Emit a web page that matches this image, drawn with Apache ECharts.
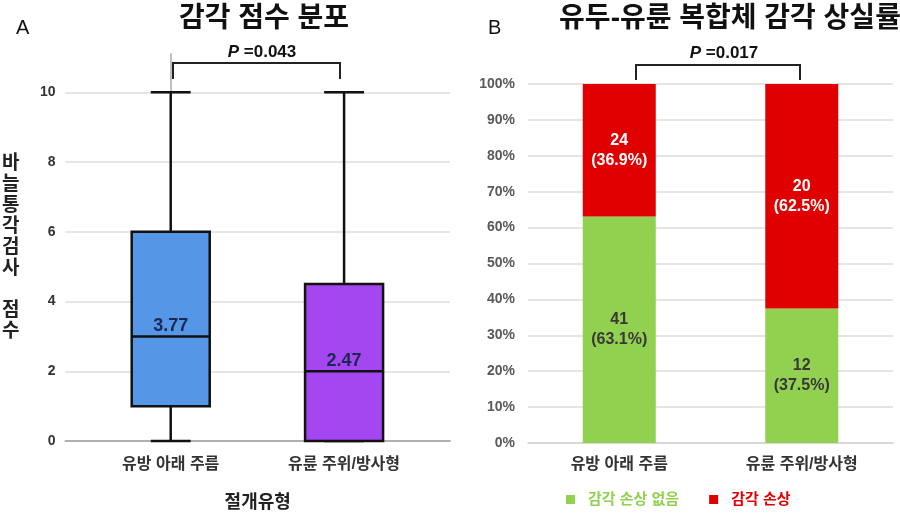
<!DOCTYPE html>
<html>
<head>
<meta charset="utf-8">
<script src="https://cdn.jsdelivr.net/npm/echarts@6/dist/echarts.min.js"></script>
<style>
  html, body { margin: 0; padding: 0; background: #fff; }
  #chart { width: 900px; height: 517px; }
</style>
</head>
<body>
<div id="chart"></div>
<script>
const FONT = "Arial, 'Liberation Sans', 'Noto Sans CJK KR', sans-serif";

// 절개유형 (두 패널 공통)
const categories = ["유방 아래 주름", "유륜 주위/방사형"];

// A: 바늘통각검사 점수 분포 [x, min, Q1, median, Q3, max]
const boxStats = [
  [0, 0, 1, 3, 6, 10],
  [1, 0, 0, 2, 4.5, 10]
];
const boxMeans = [3.77, 2.47];
const boxColors = ["#5596e6", "#a547f0"];
const scoreTicks = [0, 2, 4, 6, 8, 10];

// B: 감각 상실률
const noLossCounts = [41, 12];
const noLossPct = [63.1, 37.5];
const lossCounts = [24, 20];
const lossPct = [36.9, 62.5];

const chart = echarts.init(document.getElementById("chart"));

/* 박스플롯 그리기 (캡은 박스 폭의 절반) */
function renderBox(params, api) {
  const x = api.value(0);
  const pMin = api.coord([x, api.value(1)]);
  const pQ1 = api.coord([x, api.value(2)]);
  const pMed = api.coord([x, api.value(3)]);
  const pQ3 = api.coord([x, api.value(4)]);
  const pMax = api.coord([x, api.value(5)]);
  const half = api.size([0.45, 0])[0] / 2;
  const cap = api.size([0.23, 0])[0] / 2;
  const line = { stroke: "#111", lineWidth: 2.5 };
  const cx = pMed[0];
  return {
    type: "group",
    children: [
      { type: "line", shape: { x1: cx, y1: pQ3[1], x2: cx, y2: pMax[1] }, style: line },
      { type: "line", shape: { x1: cx, y1: pQ1[1], x2: cx, y2: pMin[1] }, style: line },
      { type: "line", shape: { x1: cx - cap, y1: pMax[1], x2: cx + cap, y2: pMax[1] }, style: line },
      { type: "line", shape: { x1: cx - cap, y1: pMin[1], x2: cx + cap, y2: pMin[1] }, style: line },
      {
        type: "rect",
        shape: { x: cx - half, y: pQ3[1], width: half * 2, height: pQ1[1] - pQ3[1] },
        style: { fill: boxColors[params.dataIndex], stroke: "#111", lineWidth: 2.5 }
      },
      { type: "line", shape: { x1: cx - half, y1: pMed[1], x2: cx + half, y2: pMed[1] }, style: line },
      {
        type: "text",
        x: cx,
        y: pMed[1] - 1,
        style: {
          text: boxMeans[params.dataIndex].toFixed(2),
          fill: "#1a2855",
          font: "bold 18px " + FONT,
          align: "center",
          verticalAlign: "bottom"
        }
      }
    ]
  };
}

const pText = {
  align: "center",
  verticalAlign: "middle",
  rich: {
    i: { fontStyle: "italic", fontWeight: "bold", fontSize: 17, fontFamily: FONT, fill: "#111" }
  },
  font: "bold 17px " + FONT,
  fill: "#111"
};

const option = {
  textStyle: { fontFamily: FONT },
  animation: false,
  title: [
    { text: "A", left: 11, top: 13, textStyle: { fontSize: 20, fontWeight: "normal", color: "#111" } },
    { text: "감각 점수 분포", left: 259, top: 0, textAlign: "center", textStyle: { fontSize: 28, fontWeight: "bold", color: "#111" } },
    { text: "B", left: 483, top: 13, textStyle: { fontSize: 20, fontWeight: "normal", color: "#111" } },
    { text: "유두-유륜 복합체 감각 상실률", left: 725, top: 0, textAlign: "center", textStyle: { fontSize: 28, fontWeight: "bold", color: "#111" } }
  ],
  grid: [
    { left: 62, right: 450, top: 54, bottom: 74 },
    { left: 528, right: 7, top: 84, bottom: 74 }
  ],
  legend: {
    left: 561,
    top: 487,
    itemWidth: 9,
    itemHeight: 9,
    itemGap: 30,
    icon: "rect",
    data: [
      { name: "감각 손상 없음", textStyle: { color: "#92d050" } },
      { name: "감각 손상", textStyle: { color: "#e00000" } }
    ],
    textStyle: { fontSize: 15, fontWeight: "bold", padding: [0, 0, 0, 8] }
  },
  xAxis: [
    {
      type: "value",
      gridIndex: 0,
      min: -0.607,
      max: 1.611,
      splitLine: { show: false },
      axisTick: { show: false },
      axisLine: { show: true, lineStyle: { color: "#b0b0b0", width: 2 } },
      axisLabel: {
        customValues: [0, 1],
        formatter: v => categories[v] || "",
        margin: 16,
        fontSize: 16,
        fontWeight: "bold",
        color: "#333"
      },
      name: "절개유형",
      nameLocation: "middle",
      nameGap: 53,
      nameTextStyle: { fontSize: 18, fontWeight: "bold", color: "#222" }
    },
    {
      type: "category",
      gridIndex: 1,
      data: categories,
      axisTick: { show: false },
      axisLine: { show: true, lineStyle: { color: "#d4d4d4", width: 1.5 } },
      axisLabel: { margin: 14, fontSize: 16, fontWeight: "bold", color: "#333" }
    }
  ],
  yAxis: [
    {
      type: "value",
      gridIndex: 0,
      min: 0,
      max: 11.1,
      interval: 2,
      axisLine: { show: true, lineStyle: { color: "#c0c0c0", width: 2 } },
      axisTick: { show: false },
      splitLine: { show: true, showMaxLine: false, lineStyle: { color: "#dcdcdc", width: 1.5 } },
      axisLabel: {
        showMaxLabel: false,
        formatter: v => (scoreTicks.includes(v) ? String(v) : ""),
        margin: 10,
        fontSize: 14,
        fontWeight: "bold",
        color: "#333"
      },
      name: "바\n늘\n통\n각\n검\n사\n\n점\n수",
      nameLocation: "middle",
      nameRotate: 0,
      nameGap: 46,
      nameTextStyle: { fontSize: 19, fontWeight: "bold", color: "#222", lineHeight: 21 }
    },
    {
      type: "value",
      gridIndex: 1,
      min: 0,
      max: 100,
      interval: 10,
      axisLine: { show: false },
      axisTick: { show: false },
      splitLine: { lineStyle: { color: "#dcdcdc", width: 1.5 } },
      axisLabel: { formatter: "{value}%", margin: 13, fontSize: 14, fontWeight: "bold", color: "#595959" }
    }
  ],
  series: [
    {
      type: "custom",
      name: "점수",
      xAxisIndex: 0,
      yAxisIndex: 0,
      renderItem: renderBox,
      encode: { x: 0, y: [1, 2, 3, 4, 5] },
      data: boxStats
    },
    {
      type: "bar",
      name: "감각 손상 없음",
      xAxisIndex: 1,
      yAxisIndex: 1,
      stack: "rate",
      barWidth: "40%",
      itemStyle: { color: "#92d050" },
      label: {
        show: true,
        position: "inside",
        formatter: p => noLossCounts[p.dataIndex] + "\n(" + noLossPct[p.dataIndex].toFixed(1) + "%)",
        color: "#383838",
        fontSize: 16,
        fontWeight: "bold",
        lineHeight: 20
      },
      data: noLossPct
    },
    {
      type: "bar",
      name: "감각 손상",
      xAxisIndex: 1,
      yAxisIndex: 1,
      stack: "rate",
      barWidth: "40%",
      itemStyle: { color: "#e00000" },
      label: {
        show: true,
        position: "inside",
        formatter: p => lossCounts[p.dataIndex] + "\n(" + lossPct[p.dataIndex].toFixed(1) + "%)",
        color: "#fff",
        fontSize: 16,
        fontWeight: "bold",
        lineHeight: 20
      },
      data: lossPct
    }
  ],
  graphic: [
    {
      type: "polyline",
      shape: { points: [[173, 79], [173, 63], [340, 63], [340, 79]] },
      style: { stroke: "#222", lineWidth: 2, fill: null }
    },
    { type: "text", x: 262, y: 52, style: Object.assign({ text: "{i|P} =0.043" }, pText) },
    {
      type: "polyline",
      shape: { points: [[636, 80], [636, 65], [800, 65], [800, 80]] },
      style: { stroke: "#222", lineWidth: 2, fill: null }
    },
    { type: "text", x: 724, y: 53, style: Object.assign({ text: "{i|P} =0.017" }, pText) }
  ]
};

chart.setOption(option);
</script>
</body>
</html>
